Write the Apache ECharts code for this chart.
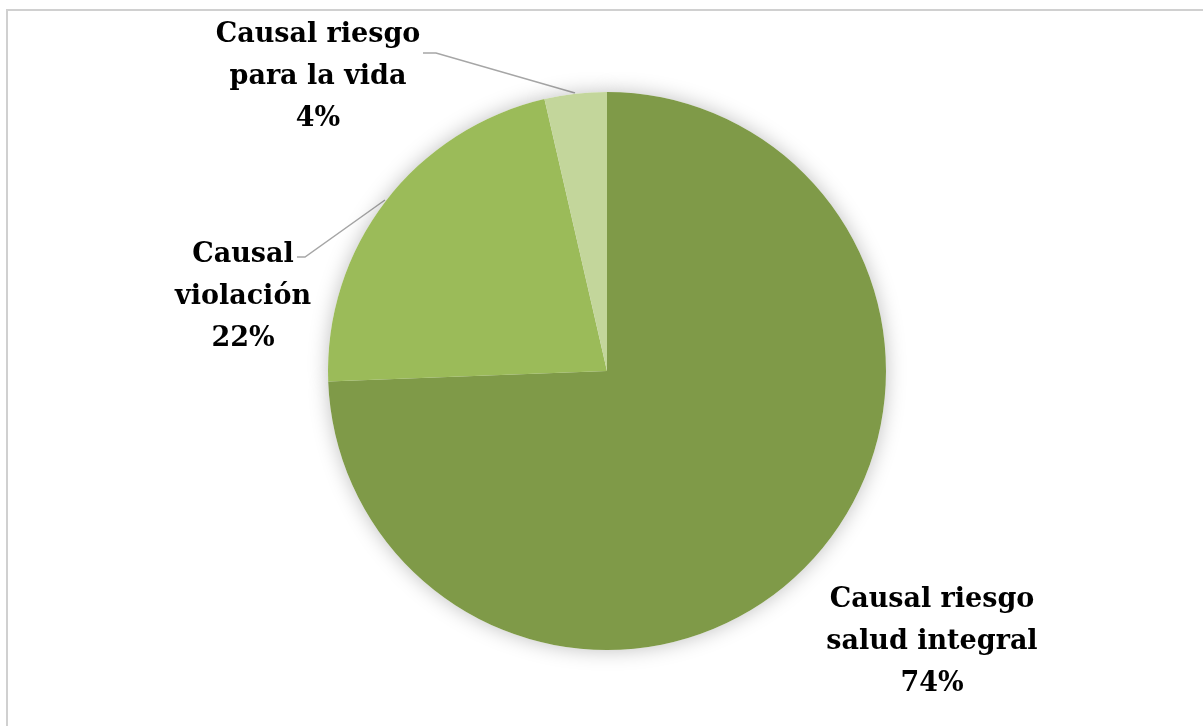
<!DOCTYPE html>
<html>
<head>
<meta charset="utf-8">
<script src="https://cdn.jsdelivr.net/npm/echarts@6/dist/echarts.min.js"></script>
<style>
  html, body { margin: 0; padding: 0; background: #fff; }
  #chart { width: 1203px; height: 726px; }
</style>
</head>
<body>
<div id="chart"></div>
<script>
// datos (porcentajes; la etiqueta muestra el valor redondeado)
const categories = ['Causal riesgo\nsalud integral', 'Causal\nviolación', 'Causal riesgo\npara la vida']
const values = [74.4, 22.0, 3.6]
const colors = ['#7f9a48', '#9bbb59', '#c3d69b']

// posición de las etiquetas (centro) y de sus líneas guía
const labelPos = [
  { x: 932, y: 642, line: null },
  { x: 243, y: 297, line: [[297, 257], [305, 257], [385, 200]] },
  { x: 318, y: 77, line: [[423, 53], [436, 53], [575, 93]] },
]

const chart = echarts.init(document.getElementById('chart'))

const pieCenter = [607, 371]
const pieRadius = 279

const option = {
  backgroundColor: '#fff',
  animation: false,
  graphic: [
    {
      type: 'rect',
      shape: { x: 7, y: 10, width: 1220, height: 740 },
      style: { fill: 'none', stroke: '#d0d0d0', lineWidth: 2 },
      silent: true,
    },
  ],
  series: [
    // sombra suave bajo el pastel
    {
      type: 'pie',
      silent: true,
      center: pieCenter,
      radius: pieRadius,
      startAngle: 90,
      data: values.map((v) => ({ value: v })),
      itemStyle: {
        color: '#fff',
        shadowBlur: 20,
        shadowColor: 'rgba(0,0,0,0.25)',
      },
      label: { show: false },
      labelLine: { show: false },
    },
    {
      type: 'pie',
      center: pieCenter,
      radius: pieRadius,
      startAngle: 90,
      clockwise: true,
      data: categories.map((name, i) => ({
        name,
        value: values[i],
        itemStyle: { color: colors[i] },
        labelLine: { show: labelPos[i].line !== null },
      })),
      label: {
        show: true,
        formatter: (p) => `${p.name}\n${Math.round(p.value)}%`,
        fontFamily: 'DejaVu Serif',
        fontWeight: 'bold',
        fontSize: 27,
        lineHeight: 42,
        color: '#000',
        align: 'center',
      },
      labelLine: {
        show: true,
        lineStyle: { color: '#a6a6a6', width: 1.5 },
      },
      labelLayout: (params) => {
        const p = labelPos[params.dataIndex]
        const out = { x: p.x, y: p.y, align: 'center', verticalAlign: 'middle' }
        if (p.line) out.labelLinePoints = p.line
        return out
      },
    },
  ],
}

chart.setOption(option)
</script>
</body>
</html>
